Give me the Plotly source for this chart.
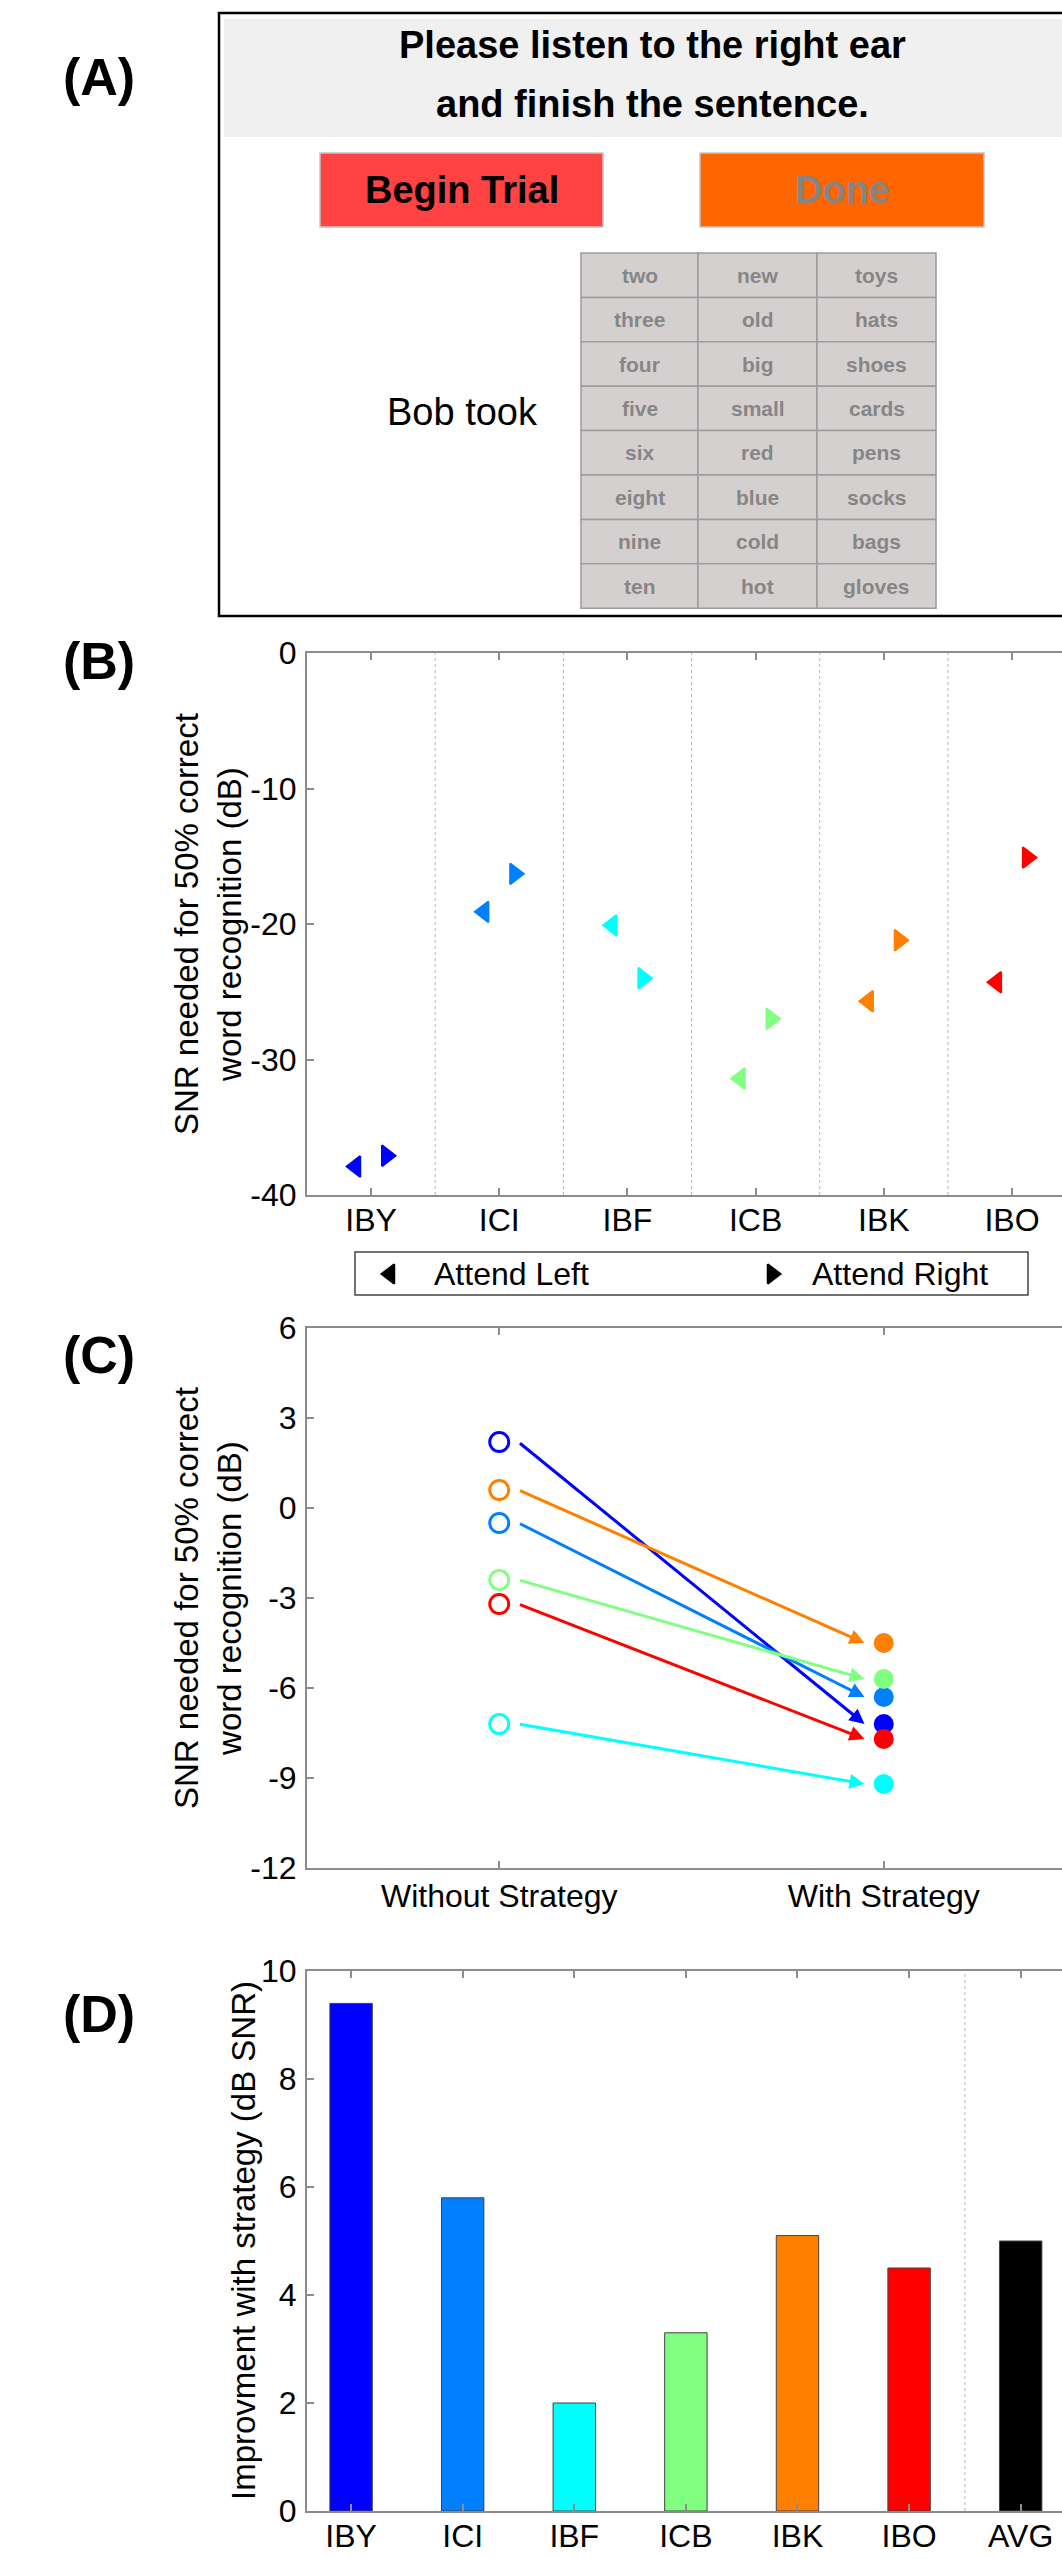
import plotly.graph_objects as go

W, H = 1062, 2559
FONT = "Liberation Sans, Arial, sans-serif"

# ---------------- data ----------------
# Panel A (task screen)
title_lines = ["Please listen to the right ear", "and finish the sentence."]
button_labels = ["Begin Trial", "Done"]
prompt_text = "Bob took"
word_columns = [
    ["two", "three", "four", "five", "six", "eight", "nine", "ten"],
    ["new", "old", "big", "small", "red", "blue", "cold", "hot"],
    ["toys", "hats", "shoes", "cards", "pens", "socks", "bags", "gloves"],
]

# Panel B
subjects = ["IBY", "ICI", "IBF", "ICB", "IBK", "IBO"]
subject_colors = ["#0000FF", "#0080FF", "#00FFFF", "#80FF80", "#FF8000", "#FF0000"]
attend_left = [-37.9, -19.1, -20.1, -31.4, -25.7, -24.3]
attend_right = [-37.1, -16.3, -24.0, -27.0, -21.2, -15.1]
legend_labels = ["Attend Left", "Attend Right"]
b_yticks = [-40, -30, -20, -10, 0]

# Panel C
conditions = ["Without Strategy", "With Strategy"]
without_strategy = [2.2, -0.5, -7.2, -2.4, 0.6, -3.2]
with_strategy = [-7.2, -6.3, -9.2, -5.7, -4.5, -7.7]
c_yticks = [-12, -9, -6, -3, 0, 3, 6]

# Panel D
bar_labels = ["IBY", "ICI", "IBF", "ICB", "IBK", "IBO", "AVG"]
improvement = [9.4, 5.8, 2.0, 3.3, 5.1, 4.5, 5.0]
bar_colors = subject_colors + ["#000000"]
d_yticks = [0, 2, 4, 6, 8, 10]

# ---------------- helpers ----------------
def py(p):
    return 1 - p / H

fig = go.Figure()

# Panel B markers
xs = list(range(1, len(subjects) + 1))
fig.add_trace(go.Scatter(
    x=[x - 0.12 for x in xs], y=attend_left, mode="markers", xaxis="x", yaxis="y",
    marker=dict(symbol="triangle-left", size=18, color=subject_colors,
                line=dict(width=2, color=subject_colors)),
    showlegend=False, hoverinfo="skip"))
fig.add_trace(go.Scatter(
    x=[x + 0.12 for x in xs], y=attend_right, mode="markers", xaxis="x", yaxis="y",
    marker=dict(symbol="triangle-right", size=18, color=subject_colors,
                line=dict(width=2, color=subject_colors)),
    showlegend=False, hoverinfo="skip"))

# Panel C markers
fig.add_trace(go.Scatter(
    x=[1] * len(without_strategy), y=without_strategy, mode="markers", xaxis="x2", yaxis="y2",
    marker=dict(symbol="circle-open", size=19, color=subject_colors, line=dict(width=3)),
    showlegend=False, hoverinfo="skip"))
fig.add_trace(go.Scatter(
    x=[2] * len(with_strategy), y=with_strategy, mode="markers", xaxis="x2", yaxis="y2",
    marker=dict(symbol="circle", size=20, color=subject_colors),
    showlegend=False, hoverinfo="skip"))

# Panel D bars
fig.add_trace(go.Bar(
    x=list(range(1, len(bar_labels) + 1)), y=improvement, width=0.38, xaxis="x3", yaxis="y3",
    marker=dict(color=bar_colors, line=dict(color="#404040", width=1)),
    showlegend=False, hoverinfo="skip"))

# Legend symbols for panel B (pixel overlay axis)
fig.add_trace(go.Scatter(
    x=[390, 772], y=[1274, 1274], mode="markers", xaxis="x4", yaxis="y4",
    marker=dict(symbol=["triangle-left", "triangle-right"], size=17, color="black",
                line=dict(width=2, color="black")),
    showlegend=False, hoverinfo="skip"))

axis_common = dict(
    showline=True, linecolor="#8c8c8c", linewidth=2, ticks="inside", ticklen=7,
    tickwidth=2, tickcolor="#8c8c8c", showgrid=False, zeroline=False, automargin=False,
    tickfont=dict(family=FONT, size=32, color="black"), fixedrange=True)

def ylabels(vals):
    return [str(v) for v in vals]

xdom = [307 / W, 1.0]
fig.update_layout(
    width=W, height=H, margin=dict(l=0, r=0, t=0, b=0, autoexpand=False),
    paper_bgcolor="white", plot_bgcolor="rgba(0,0,0,0)",
    xaxis=dict(axis_common, domain=xdom, range=[0.5, 0.5 + 755 / 128.18],
               tickvals=xs, ticktext=subjects, mirror="ticks", anchor="y",
               ticklabelstandoff=-4),
    yaxis=dict(axis_common, domain=[py(1195), py(653)], range=[-40, 0],
               tickvals=b_yticks, ticktext=ylabels(b_yticks),
               anchor="x", ticklabelstandoff=2),
    xaxis2=dict(axis_common, domain=xdom, range=[0.5, 0.5 + 755 / 384.5],
                tickvals=[1, 2], ticktext=conditions, mirror="ticks", anchor="y2",
                ticklabelstandoff=-1),
    yaxis2=dict(axis_common, domain=[py(1868), py(1328)], range=[-12, 6],
                tickvals=c_yticks, ticktext=ylabels(c_yticks),
                anchor="x2", ticklabelstandoff=2),
    xaxis3=dict(axis_common, domain=xdom, range=[0.605, 0.605 + 755 / 111.6],
                tickvals=list(range(1, len(bar_labels) + 1)), ticktext=bar_labels,
                mirror="ticks", anchor="y3", ticklabelstandoff=-4),
    yaxis3=dict(axis_common, domain=[py(2511), py(1971)], range=[0, 10],
                tickvals=d_yticks, ticktext=ylabels(d_yticks),
                anchor="x3", ticklabelstandoff=2),
    xaxis4=dict(domain=[0, 1], range=[0, W], visible=False, fixedrange=True,
                anchor="y4", automargin=False),
    yaxis4=dict(domain=[0, 1], range=[H, 0], visible=False, fixedrange=True,
                anchor="x4", automargin=False),
)

shapes = []
annotations = []

# dotted separators
for xv in [1.5, 2.5, 3.5, 4.5, 5.5]:
    shapes.append(dict(type="line", xref="x", yref="y domain", x0=xv, x1=xv, y0=0, y1=1,
                       line=dict(color="#b4b4b4", width=1, dash="dot")))
shapes.append(dict(type="line", xref="x3", yref="y3 domain", x0=6.5, x1=6.5, y0=0, y1=1,
                   line=dict(color="#b4b4b4", width=1, dash="dot")))

# arrows for panel C
for i in range(len(subjects)):
    annotations.append(dict(
        x=1.95, y=with_strategy[i], ax=1.05, ay=without_strategy[i],
        xref="x2", yref="y2", axref="x2", ayref="y2", text="", showarrow=True,
        arrowhead=2, arrowsize=1, arrowwidth=3, arrowcolor=subject_colors[i],
        standoff=0, startstandoff=0))

# ---- Panel A mockup (pixel overlay axis) ----
P = dict(xref="x4", yref="y4")
shapes.append(dict(type="rect", **P, x0=224, y0=19, x1=1100, y1=137,
                   fillcolor="#F0F0F0", line=dict(width=0), layer="below"))
shapes.append(dict(type="rect", **P, x0=219, y0=13, x1=1100, y1=616,
                   line=dict(color="black", width=2.5)))
btn_boxes = [(320, 603, "#FF4242", "black"), (700, 984, "#FF6600", "#858585")]
for (x0, x1, fc, tc), lab in zip(btn_boxes, button_labels):
    shapes.append(dict(type="rect", **P, x0=x0, y0=153, x1=x1, y1=227,
                       fillcolor=fc, line=dict(color="#c4c4c4", width=1.5)))
    annotations.append(dict(**P, x=(x0 + x1) / 2, y=190, text="<b>%s</b>" % lab,
                            showarrow=False, xanchor="center", yanchor="middle",
                            font=dict(family=FONT, size=38, color=tc)))
for k, line in enumerate(title_lines):
    annotations.append(dict(**P, x=652, y=45 + 59 * k, text="<b>%s</b>" % line,
                            showarrow=False, xanchor="center", yanchor="middle",
                            font=dict(family=FONT, size=38, color="black")))
annotations.append(dict(**P, x=462, y=412, text=prompt_text, showarrow=False,
                        xanchor="center", yanchor="middle",
                        font=dict(family=FONT, size=38, color="black")))
col_edges = [581, 698, 817, 936]
row_top, row_h = 253, 44.4
for c, words in enumerate(word_columns):
    for r, w in enumerate(words):
        y0 = row_top + r * row_h
        shapes.append(dict(type="rect", **P, x0=col_edges[c], x1=col_edges[c + 1],
                           y0=y0, y1=y0 + row_h, fillcolor="#D5D0D0",
                           line=dict(color="#9c9c9c", width=1.5)))
        annotations.append(dict(**P, x=(col_edges[c] + col_edges[c + 1]) / 2,
                                y=y0 + row_h / 2, text="<b>%s</b>" % w, showarrow=False,
                                xanchor="center", yanchor="middle",
                                font=dict(family=FONT, size=21, color="#868686")))

# Panel labels
for lab, yc in [("(A)", 77), ("(B)", 661), ("(C)", 1355), ("(D)", 2014)]:
    annotations.append(dict(**P, x=99, y=yc, text="<b>%s</b>" % lab, showarrow=False,
                            xanchor="center", yanchor="middle",
                            font=dict(family=FONT, size=52, color="black")))

# y-axis titles
ylab2 = "SNR needed for 50% correct<br>word recognition (dB)"
for yc in [924, 1598]:
    annotations.append(dict(**P, x=208, y=yc, text=ylab2, showarrow=False, textangle=-90,
                            xanchor="center", yanchor="middle",
                            font=dict(family=FONT, size=33, color="black")))
annotations.append(dict(**P, x=243, y=2241, text="Improvment with strategy (dB SNR)",
                        showarrow=False, textangle=-90, xanchor="center", yanchor="middle",
                        font=dict(family=FONT, size=33, color="black")))

# Legend box for panel B
shapes.append(dict(type="rect", **P, x0=355, y0=1252, x1=1028, y1=1295,
                   line=dict(color="#444444", width=1.5)))
for xl, lab in zip([432, 810], legend_labels):
    annotations.append(dict(**P, x=xl, y=1274, text=lab, showarrow=False,
                            xanchor="left", yanchor="middle",
                            font=dict(family=FONT, size=32, color="black")))

fig.update_layout(shapes=shapes, annotations=annotations)

fig.write_html("out.html", config={"displayModeBar": False},
               post_script="document.body.style.margin='0';document.body.style.overflow='hidden';")
